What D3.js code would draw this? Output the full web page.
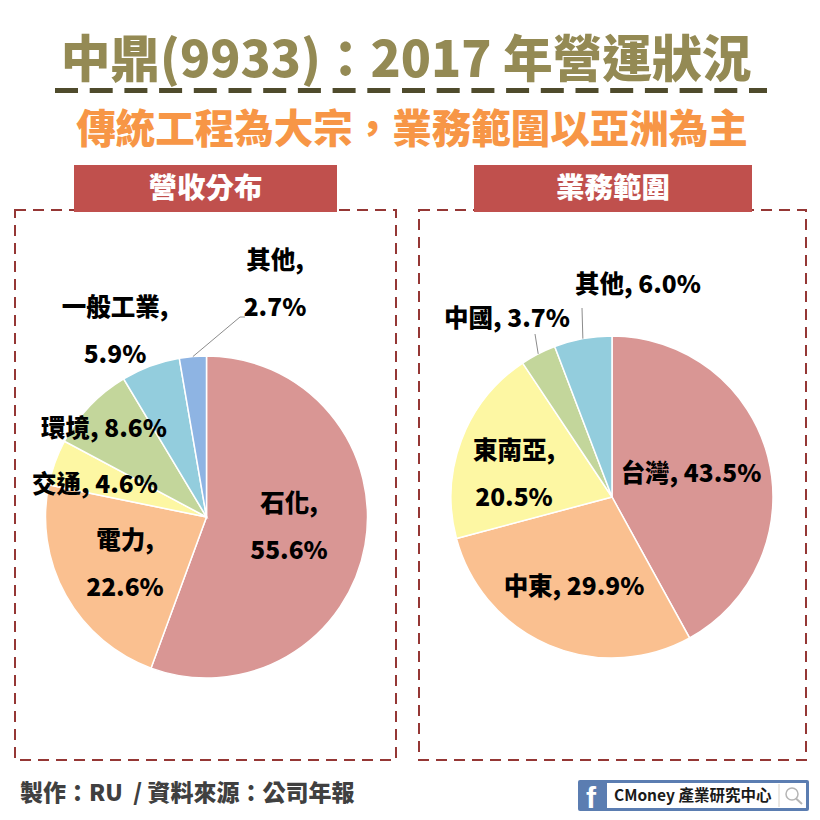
<!DOCTYPE html>
<html>
<head>
<meta charset="utf-8">
<script src="https://cdn.jsdelivr.net/npm/d3@7"></script>
<style>
  html, body { margin: 0; padding: 0; background: #fff; }
  text { font-family: "Noto Sans CJK TC", "Noto Sans", sans-serif; font-weight: 900; white-space: pre; }
</style>
</head>
<body>
<svg id="chart" width="820" height="820"></svg>
<script>
// revenue split
const revenueCategories = ["石化", "電力", "交通", "環境", "一般工業", "其他"];
const revenueValues = [55.6, 22.6, 4.6, 8.6, 5.9, 2.7];

// business regions (printed figures add up to more than 100 in the original)
const regionCategories = ["台灣", "中東", "東南亞", "中國", "其他"];
const regionValues = [43.5, 29.9, 20.5, 3.7, 6.0];

const revenueColors = ["#d99694", "#fac090", "#fdf7a3", "#c3d69b", "#93cddd", "#8eb4e3"];
const regionColors = ["#d99694", "#fac090", "#fdf7a3", "#c3d69b", "#93cddd"];

// label placement, one entry per slice: [x, y, split over two lines?]
const revenueLabelPos = [[289, 503, true], [125, 540, true], [95, 484, false], [104, 428, false], [115, 307, true], [275, 260, true]];
const regionLabelPos = [[691, 473, false], [574, 586, false], [514, 450, true], [507, 318, false], [638, 284, false]];

const svg = d3.select("#chart");
svg.append("rect").attr("width", 820).attr("height", 820).attr("fill", "#fff");

// Title block
svg.append("text")
  .attr("x", 406).attr("y", 77)
  .attr("text-anchor", "middle")
  .attr("font-size", 49.7)
  .attr("fill", "#948a54")
  .text("中鼎(9933)：2017 年營運狀況");

svg.append("line")
  .attr("x1", 55).attr("x2", 767)
  .attr("y1", 90.5).attr("y2", 90.5)
  .attr("stroke", "#4f4b2c")
  .attr("stroke-width", 5)
  .attr("stroke-dasharray", "23 11.7");

svg.append("text")
  .attr("x", 412).attr("y", 143)
  .attr("text-anchor", "middle")
  .attr("font-size", 39.5)
  .attr("fill", "#f79646")
  .text("傳統工程為大宗，業務範圍以亞洲為主");

// One panel: dashed frame, red header, pie, labels
function drawPanel(opts) {
  const g = svg.append("g");

  g.append("rect")
    .attr("x", opts.frame[0]).attr("y", opts.frame[1])
    .attr("width", opts.frame[2]).attr("height", opts.frame[3])
    .attr("fill", "none")
    .attr("stroke", "#953735")
    .attr("stroke-width", 2)
    .attr("stroke-dasharray", "11 7");

  g.append("rect")
    .attr("x", opts.header[0]).attr("y", 165)
    .attr("width", opts.header[1]).attr("height", 47)
    .attr("fill", "#c0504d");

  g.append("text")
    .attr("x", opts.header[0] + opts.header[1] / 2).attr("y", 198)
    .attr("text-anchor", "middle")
    .attr("font-size", 28.5)
    .attr("fill", "#fff")
    .text(opts.title);

  const pie = d3.pie().sort(null);
  const arc = d3.arc().innerRadius(0).outerRadius(161);
  const rim = d3.arc().innerRadius(161).outerRadius(161);
  const slices = pie(opts.values);

  const pieG = g.append("g").attr("transform", `translate(${opts.center[0]},${opts.center[1]})`);

  pieG.selectAll("path.slice")
    .data(slices)
    .join("path")
      .attr("class", "slice")
      .attr("d", arc)
      .attr("fill", (d, i) => opts.colors[i])
      .attr("stroke", "#fff")
      .attr("stroke-width", 1.5);

  // Leader lines start at the slice's rim and run to the label
  opts.leaders.forEach(l => {
    const p = rim.centroid(slices[l.slice]);
    const pts = [[p[0], p[1]]].concat(l.to.map(t => [t[0] - opts.center[0], t[1] - opts.center[1]]));
    pieG.append("path")
      .attr("d", d3.line()(pts))
      .attr("fill", "none")
      .attr("stroke", "#8c8c8c")
      .attr("stroke-width", 1);
  });

  // Labels
  opts.categories.forEach((name, i) => {
    const [x, y, twoLine] = opts.labelPos[i];
    const pct = opts.values[i].toFixed(1) + "%";
    const label = g.append("text")
      .attr("text-anchor", "middle")
      .attr("font-size", 24.5)
      .attr("fill", "#000");
    if (twoLine) {
      label.append("tspan").attr("x", x).attr("y", y + 9).text(name + ",");
      label.append("tspan").attr("x", x).attr("y", y + 56).text(pct);
    } else {
      label.attr("x", x).attr("y", y + 9).text(name + ", " + pct);
    }
  });
}

drawPanel({
  frame: [15, 210, 381, 550],
  header: [74, 263],
  title: "營收分布",
  center: [206.5, 517],
  categories: revenueCategories,
  values: revenueValues,
  colors: revenueColors,
  labelPos: revenueLabelPos,
  leaders: [{ slice: 5, to: [[240, 317], [245, 317]] }]
});

drawPanel({
  frame: [419, 210, 387, 550],
  header: [474, 278],
  title: "業務範圍",
  center: [612, 497],
  categories: regionCategories,
  values: regionValues,
  colors: regionColors,
  labelPos: regionLabelPos,
  leaders: [{ slice: 3, to: [[535, 334]] }, { slice: 4, to: [[582, 308]] }]
});

// Footer
svg.append("text")
  .attr("x", 20).attr("y", 801)
  .attr("font-size", 23)
  .attr("fill", "#404040")
  .text("製作：RU  / 資料來源：公司年報");

// CMoney search-box badge
const badge = svg.append("g");
badge.append("rect")
  .attr("x", 578).attr("y", 780).attr("width", 231).attr("height", 31).attr("rx", 2)
  .attr("fill", "#5b7db1");
badge.append("rect")
  .attr("x", 607).attr("y", 783).attr("width", 199).attr("height", 25)
  .attr("fill", "#fff");
badge.append("text")
  .attr("x", 586).attr("y", 808)
  .attr("font-size", 30)
  .style("font-family", "Liberation Sans, sans-serif")
  .attr("fill", "#fff")
  .text("f");
badge.append("text")
  .attr("x", 614).attr("y", 801)
  .attr("font-size", 15.5)
  .style("font-weight", 700)
  .attr("fill", "#1a1a1a")
  .text("CMoney 產業研究中心");
badge.append("line")
  .attr("x1", 779).attr("x2", 779).attr("y1", 784).attr("y2", 807)
  .attr("stroke", "#d5d0c8");
badge.append("circle")
  .attr("cx", 792).attr("cy", 794).attr("r", 6)
  .attr("fill", "none").attr("stroke", "#b5b5b5").attr("stroke-width", 1.5);
badge.append("line")
  .attr("x1", 796).attr("y1", 798.5).attr("x2", 802).attr("y2", 804)
  .attr("stroke", "#b5b5b5").attr("stroke-width", 2);
</script>
</body>
</html>
